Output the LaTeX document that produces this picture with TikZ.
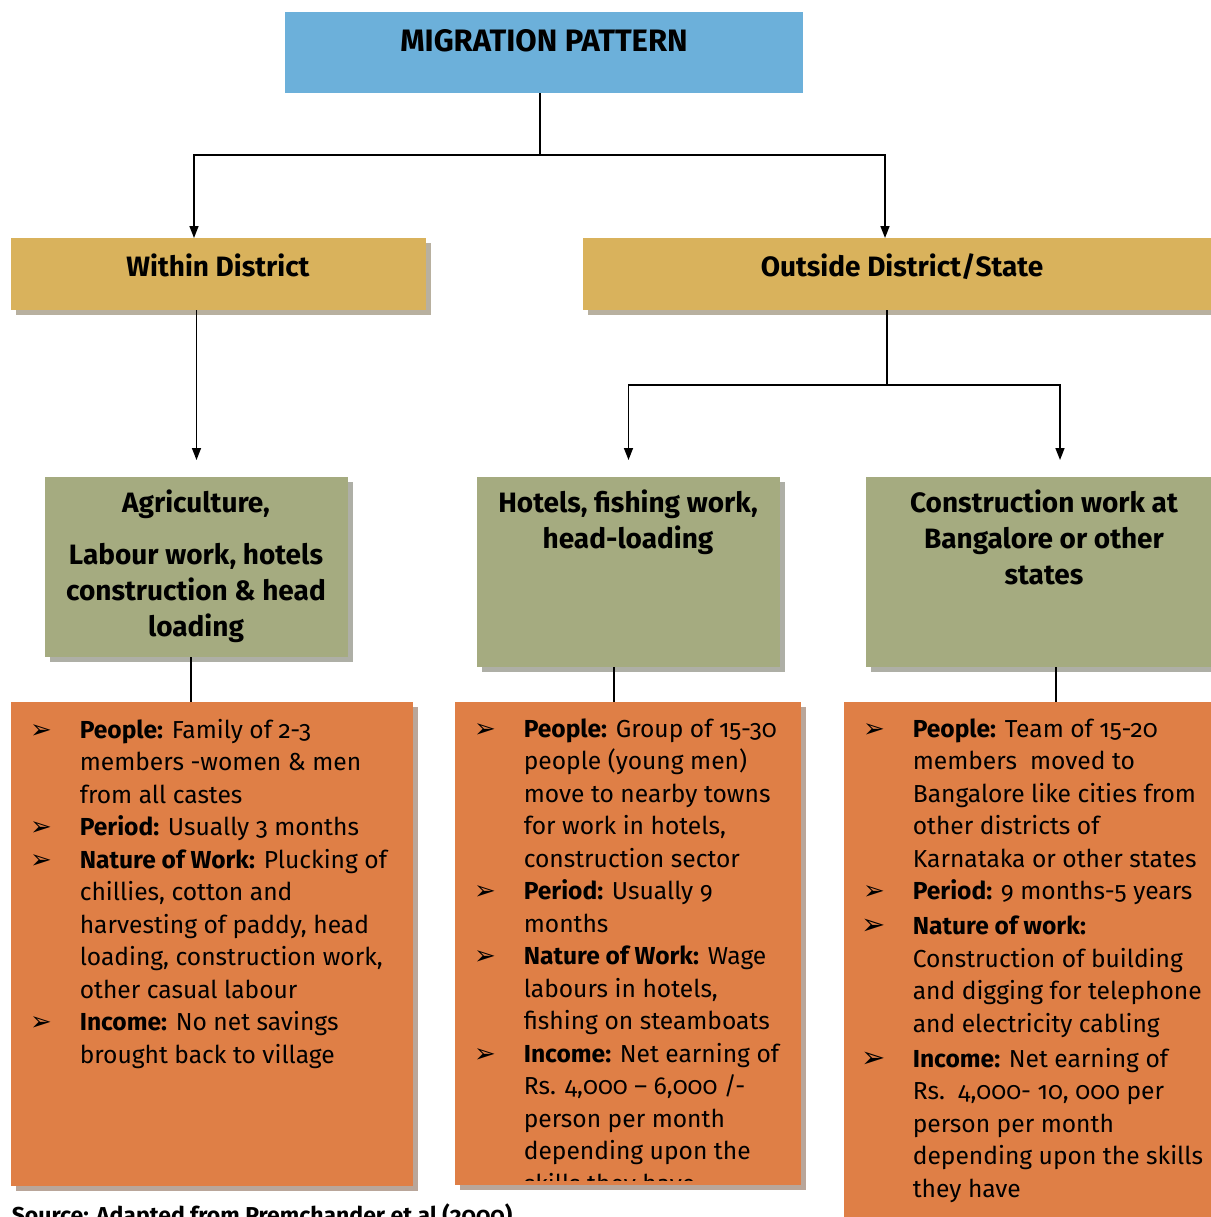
\documentclass[tikz,border=0pt]{standalone}
\usepackage{fontspec}
\setmainfont{Fira Sans}[Numbers=OldStyle]
\newfontfamily\arrowfont{DejaVu Sans}
\usetikzlibrary{positioning,arrows.meta,shadows}
\definecolor{migblue}{RGB}{108,176,218}
\definecolor{miggold}{RGB}{217,178,92}
\definecolor{miggreen}{RGB}{165,171,128}
\definecolor{migorange}{RGB}{223,127,70}
\newcommand{\titlesize}{\fontsize{15.5}{18}\selectfont}
\newcommand{\headsize}{\fontsize{14}{18}\selectfont}
\newcommand{\listsize}{\fontsize{12.3}{16.25}\selectfont}
\newcommand{\itm}{\makebox[0pt][r]{\arrowfont\fontsize{13}{10}\selectfont ➢\hspace{14pt}}}
\newcommand{\itmL}{\makebox[0pt][r]{\arrowfont\fontsize{14.5}{10}\selectfont ➢\hspace{13.5pt}}}
\tikzset{
   panel/.style={rectangle, fill=#1, inner sep=0pt, outer sep=0pt},
   shadowed panel/.style={panel=#1,
      drop shadow={shadow xshift=2.5pt, shadow yshift=-2.5pt,
         fill=#1!45!black!45!white, opacity=1}},
   panel text/.style={font=\bfseries\headsize, align=center, inner sep=0pt},
   list text/.style={font=\listsize, align=left, anchor=north west, inner sep=0pt},
   flow/.style={-{Triangle[length=6pt,width=4.5pt]}},
}
\begin{document}
\begin{tikzpicture}[x=0.5pt, y=-0.5pt, line width=0.8pt]
  \useasboundingbox (0,0) rectangle (1211,1217);
  % Boxes
  \node[panel=migblue, minimum width=259pt, minimum height=40.5pt] (pattern) at (544,52.5) {};
  \node[shadowed panel=miggold, minimum width=207.5pt, minimum height=36pt] (within) at (218.5,274) {};
  \node[shadowed panel=miggold, minimum width=314pt, minimum height=36pt] (outside) at (897,274) {};
  \node[shadowed panel=miggreen, minimum width=151.5pt, minimum height=90pt] (agri) at (196.5,567) {};
  \node[shadowed panel=miggreen, minimum width=151.5pt, minimum height=95pt] (hotels) at (628.5,572) {};
  \node[shadowed panel=miggreen, minimum width=172.5pt, minimum height=95pt] (constr) at (1038.5,572) {};
  \node[shadowed panel=migorange, minimum width=201pt, minimum height=242pt] (local) at (212,944) {};
  \node[shadowed panel=migorange, minimum width=173pt, minimum height=241.5pt] (nearby) at (628,943.5) {};
  \node[shadowed panel=migorange, minimum width=183.5pt, minimum height=260pt] (distant) at (1027.5,962) {};

  % Titles
  \node[panel text, font=\bfseries\titlesize, anchor=base] (pattern-t) at (544,51) {MIGRATION PATTERN};
  \node[panel text, anchor=base] (within-t) at (218,276) {Within District};
  \node[panel text, anchor=base] (outside-t) at (902,276) {Outside District/State};
  \node[panel text, anchor=north] (agri-t) at (196,489) {Agriculture,\\[8pt]
    Labour work, hotels\\ construction \& head\\ loading};
  \node[panel text, anchor=north] (hotels-t) at (628,489) {Hotels, fishing work,\\ head-loading};
  \node[panel text, anchor=north] (constr-t) at (1044,489) {Construction work at\\ Bangalore or other\\ states};

  % Wires
  \draw ([xshift=-2pt]pattern.south) -- ++(0,62) coordinate (fork);
  \draw[flow] (fork) -| ([xshift=-12.25pt]within.north);
  \draw[flow] (fork) -| ([xshift=-6pt]outside.north);
  \draw[flow, shorten >=8.5pt] (agri.north |- within.south) -- (agri.north);
  \draw ([xshift=-5pt]outside.south) -- ++(0,75) coordinate (fork2);
  \draw[flow, shorten >=8.5pt] (fork2) -| (hotels.north);
  \draw[flow, shorten >=8.5pt] (fork2) -| ([xshift=10.75pt]constr.north);
  \draw ([xshift=-2.75pt]agri.south) -- ([xshift=-2.75pt]agri.south |- local.north);
  \draw ([xshift=-7.25pt]hotels.south) -- ([xshift=-7.25pt]hotels.south |- nearby.north);
  \draw ([xshift=8.75pt]constr.south) -- ([xshift=8.75pt]constr.south |- distant.north);

  % Lists
  \node[list text] (local-l) at (79,718) {%
    \itm\textbf{People:} Family of 2-3\\
    members -women \& men\\
    from all castes\\
    \itm\textbf{Period:} Usually 3 months\\
    \itm\textbf{Nature of Work:} Plucking of\\
    chillies, cotton and\\
    harvesting of paddy, head\\
    loading, construction work,\\
    other casual labour\\
    \itm\textbf{Income:} No net savings\\
    brought back to village};
  \begin{scope}
    \clip (455,702) rectangle (801,1180);
    \node[list text] (nearby-l) at (523,718) {%
      \itm\textbf{People:} Group of 15-30\\
      people (young men)\\
      move to nearby towns\\
      for work in hotels,\\
      construction sector\\
      \itm\textbf{Period:} Usually 9\\
      months\\
      \itm\textbf{Nature of Work:} Wage\\
      labours in hotels,\\
      fishing on steamboats\\
      \itm\textbf{Income:} Net earning of\\
      Rs. 4,000 – 6,000 /-\\
      person per month\\
      depending upon the\\
      skills they have};
  \end{scope}
  \node[list text] (distant-l) at (912,718) {%
    \itm\textbf{People:} Team of 15-20\\
    members\ \ moved to\\
    Bangalore like cities from\\
    other districts of\\
    Karnataka or other states\\
    \itm\textbf{Period:} 9 months-5 years\\[1.25pt]
    \itmL\textbf{Nature of work:}\\
    Construction of building\\
    and digging for telephone\\
    and electricity cabling\\[1.25pt]
    \itmL\textbf{Income:} Net earning of\\
    Rs.\ \ 4,000- 10, 000 per\\
    person per month\\
    depending upon the skills\\
    they have};

  % Source
  \node[font=\bfseries\fontsize{11.5}{14}\selectfont, anchor=base west, inner sep=0pt] (source) at (11,1223) {Source: Adapted from Premchander et al (2000)};
\end{tikzpicture}
\end{document}
